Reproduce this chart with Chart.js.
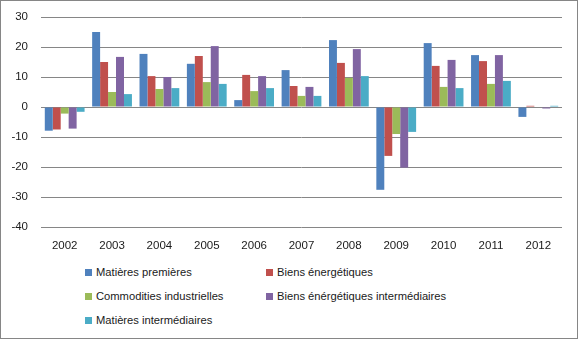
<!DOCTYPE html>
<html>
<head>
<meta charset="utf-8">
<script src="https://cdn.jsdelivr.net/npm/chart.js@4"></script>
<style>
    body { margin: 0; background: #fff; }
    #frame {
        position: relative;
        width: 578px;
        height: 339px;
        box-sizing: border-box;
        border: 1px solid #868686;
        font-family: "Liberation Sans", Arial, sans-serif;
    }
    #chart-box { position: absolute; left: -1px; top: -1px; width: 578px; height: 262px; }
    #legend {
        position: absolute;
        left: 84px;
        top: 263px;
        display: grid;
        grid-template-columns: 181px 250px;
        row-gap: 8px;
        font-size: 11.2px;
        color: #1a1a1a;
    }
    .item { display: flex; align-items: center; height: 16px; }
    .swatch { width: 7px; height: 7px; margin-right: 4px; }
</style>
</head>
<body>
<div id="frame">
    <div id="chart-box"><canvas id="barChart"></canvas></div>
    <div id="legend"></div>
</div>
<script>
// Data
const years = ['2002', '2003', '2004', '2005', '2006', '2007', '2008', '2009', '2010', '2011', '2012'];
const seriesNames = [
    'Matières premières',
    'Biens énergétiques',
    'Commodities industrielles',
    'Biens énérgétiques intermédiaires',
    'Matières intermédiaires'
];
const matieresPremieres = [-7.9, 25.0, 17.7, 14.4, 2.3, 12.3, 22.3, -27.6, 21.3, 17.3, -3.3];
const biensEnergetiques = [-7.5, 15.0, 10.3, 17.0, 10.7, 7.0, 14.7, -16.3, 13.7, 15.3, 0.4];
const commoditiesIndus = [-2.2, 5.0, 6.0, 8.3, 5.3, 3.7, 9.7, -9.0, 6.7, 7.7, 0.0];
const biensEnergInter = [-7.2, 16.7, 10.0, 20.3, 10.3, 6.7, 19.3, -20.2, 15.7, 17.3, -0.5];
const matieresInter = [-1.6, 4.3, 6.3, 7.7, 6.3, 3.7, 10.3, -8.3, 6.3, 8.7, 0.4];
const yTicks = [-40, -30, -20, -10, 0, 10, 20, 30];

const seriesData = [matieresPremieres, biensEnergetiques, commoditiesIndus, biensEnergInter, matieresInter];
const colors = ['#4F81BD', '#C0504D', '#9BBB59', '#8064A2', '#4BACC6'];

const datasets = seriesNames.map((name, i) => ({
    label: name,
    data: seriesData[i],
    backgroundColor: colors[i],
    borderWidth: 0,
    categoryPercentage: 0.84,
    barPercentage: 1.0
}));

const tickFont = { family: '"Liberation Sans", Arial, sans-serif', size: 11.5 };

new Chart(document.getElementById('barChart'), {
    type: 'bar',
    data: { labels: years, datasets: datasets },
    options: {
        responsive: true,
        maintainAspectRatio: false,
        animation: false,
        layout: { padding: { left: 0, right: 16, top: 17, bottom: 0 } },
        plugins: {
            legend: { display: false },
            tooltip: { enabled: false }
        },
        scales: {
            x: {
                grid: { display: false, drawTicks: false },
                border: { display: false },
                ticks: { color: '#1a1a1a', font: tickFont, padding: 12, maxRotation: 0 },
                afterFit: (scale) => { scale.height = 35; }
            },
            y: {
                min: -40,
                max: 30,
                afterBuildTicks: (scale) => { scale.ticks = yTicks.map(v => ({ value: v })); },
                grid: { color: '#868686', lineWidth: 1, drawTicks: false },
                border: { display: false },
                ticks: { color: '#1a1a1a', font: tickFont, padding: 13 },
                afterFit: (scale) => {
                    scale.width = 41;
                    scale.paddingTop = 0;
                    scale.paddingBottom = 0;
                }
            }
        }
    }
});

// HTML legend in two columns
const legendEl = document.getElementById('legend');
seriesNames.forEach((name, i) => {
    const item = document.createElement('div');
    item.className = 'item';
    item.innerHTML = `<span class="swatch" style="background:${colors[i]}"></span><span>${name}</span>`;
    legendEl.appendChild(item);
});
</script>
</body>
</html>
